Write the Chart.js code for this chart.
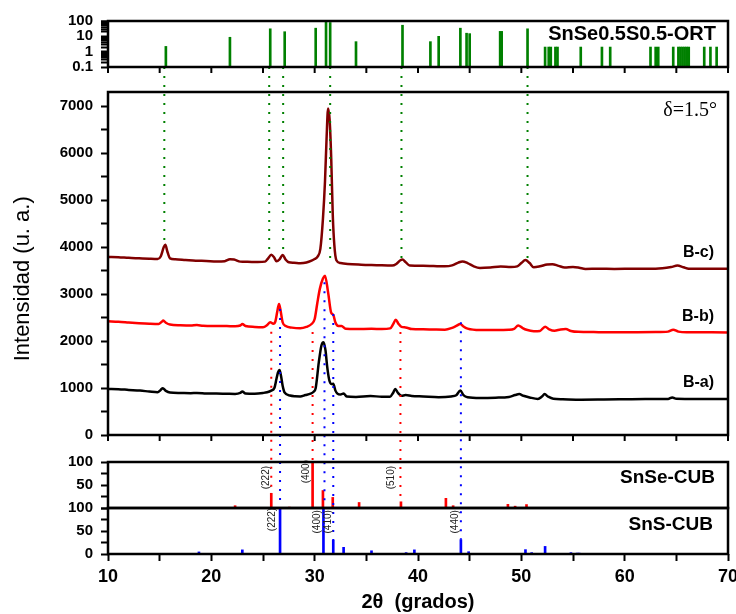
<!DOCTYPE html>
<html>
<head>
<meta charset="utf-8">
<script src="https://cdn.jsdelivr.net/npm/chart.js@4.4.1/dist/chart.umd.min.js"></script>
<style>
  html, body { margin: 0; padding: 0; background: #fff; }
  #wrap { width: 736px; height: 614px; }
</style>
</head>
<body>
<div id="wrap"><canvas id="xrd"></canvas></div>
<script>
// --- measured patterns (2theta, intensity) ---
const bcPoints = [[10, 3790], [11, 3785], [12, 3770], [13, 3760], [14, 3750], [14.8, 3745], [15.1, 3800], [15.4, 4000], [15.55, 4050], [15.75, 3900], [16.0, 3760], [16.5, 3740], [17.5, 3725], [18.5, 3710], [19.5, 3705], [20.5, 3695], [21.3, 3700], [21.8, 3740], [22.2, 3735], [22.8, 3690], [23.5, 3685], [24.5, 3680], [25.2, 3690], [25.5, 3760], [25.8, 3835], [26.05, 3790], [26.3, 3700], [26.6, 3740], [26.9, 3830], [27.2, 3730], [27.5, 3675], [28.0, 3665], [28.6, 3655], [29.2, 3670], [29.7, 3710], [30.0, 3745], [30.3, 3800], [30.55, 3960], [30.8, 4600], [31.0, 5400], [31.15, 6300], [31.3, 6950], [31.45, 6700], [31.6, 5900], [31.75, 4700], [31.9, 4050], [32.1, 3720], [32.5, 3660], [33.2, 3640], [34.5, 3625], [36.0, 3615], [37.5, 3605], [37.9, 3640], [38.3, 3720], [38.5, 3735], [38.8, 3680], [39.2, 3605], [40.5, 3600], [41.5, 3595], [42.6, 3590], [43.3, 3610], [43.9, 3670], [44.3, 3695], [44.8, 3660], [45.4, 3590], [46.0, 3555], [47.0, 3565], [48.0, 3585], [49.0, 3575], [49.6, 3590], [50.0, 3660], [50.4, 3725], [50.8, 3660], [51.2, 3570], [51.8, 3590], [52.5, 3630], [53.0, 3635], [53.6, 3600], [54.2, 3565], [55.0, 3575], [55.6, 3560], [56.2, 3535], [57.5, 3540], [59, 3535], [61, 3540], [63, 3540], [64.5, 3575], [65.1, 3605], [65.7, 3570], [66.2, 3540], [68, 3540], [70, 3540]];

const bbPoints = [[10, 2420], [11, 2410], [12, 2395], [13, 2380], [14, 2368], [14.9, 2362], [15.2, 2410], [15.35, 2435], [15.6, 2390], [16.0, 2350], [17, 2335], [18, 2330], [18.6, 2340], [19.2, 2325], [20.5, 2320], [21.5, 2318], [22.3, 2315], [22.8, 2330], [23.0, 2360], [23.3, 2320], [24.2, 2300], [25.0, 2295], [25.4, 2340], [25.7, 2400], [26.0, 2370], [26.2, 2420], [26.4, 2650], [26.55, 2790], [26.7, 2650], [26.9, 2400], [27.2, 2320], [27.8, 2285], [28.6, 2270], [29.2, 2300], [29.7, 2362], [30.0, 2468], [30.25, 2800], [30.5, 3110], [30.8, 3330], [31.0, 3390], [31.3, 3035], [31.6, 2600], [31.8, 2560], [32.0, 2400], [32.3, 2320], [32.6, 2320], [33.0, 2260], [34, 2255], [35.5, 2260], [36.5, 2255], [37.3, 2270], [37.6, 2360], [37.85, 2455], [38.1, 2370], [38.4, 2300], [38.8, 2290], [39.4, 2255], [40.5, 2250], [41.5, 2245], [42.6, 2241], [43.3, 2280], [43.7, 2320], [44.1, 2365], [44.4, 2310], [44.8, 2265], [46, 2235], [47.5, 2235], [48.8, 2240], [49.3, 2260], [49.7, 2330], [50.1, 2280], [50.5, 2240], [51.2, 2210], [51.8, 2215], [52.3, 2305], [52.7, 2250], [53.2, 2220], [53.8, 2245], [54.3, 2255], [54.8, 2215], [55.5, 2195], [57, 2190], [59, 2188], [61, 2188], [63, 2190], [64.2, 2200], [64.7, 2240], [65.2, 2200], [66, 2185], [68, 2185], [70, 2184]];

const baPoints = [[10, 980], [11, 975], [12, 960], [13.1, 945], [14, 925], [14.8, 910], [15.1, 960], [15.3, 995], [15.6, 940], [16.0, 905], [17, 895], [18, 890], [18.6, 895], [19.5, 885], [20.5, 882], [21.5, 878], [22.3, 875], [22.8, 895], [23.0, 925], [23.3, 885], [24.2, 880], [25.0, 895], [25.4, 910], [25.8, 945], [26.1, 1000], [26.3, 1190], [26.45, 1330], [26.6, 1385], [26.75, 1250], [26.9, 1050], [27.1, 900], [27.6, 840], [28.1, 825], [28.6, 822], [29.1, 850], [29.6, 880], [29.9, 920], [30.1, 1000], [30.4, 1546], [30.65, 1900], [30.85, 1975], [31.05, 1800], [31.2, 1475], [31.4, 1180], [31.6, 1085], [31.8, 1090], [32.0, 950], [32.2, 880], [32.5, 860], [32.8, 885], [33.1, 820], [34, 810], [35.4, 829], [36.5, 815], [37.3, 815], [37.6, 900], [37.8, 980], [38.05, 900], [38.4, 835], [38.8, 850], [39.4, 830], [40.5, 820], [42, 805], [43.2, 820], [43.7, 845], [44.1, 945], [44.4, 850], [44.8, 805], [46, 790], [47.5, 795], [48.8, 810], [49.4, 850], [49.8, 870], [50.2, 835], [50.8, 800], [51.6, 768], [52.0, 820], [52.25, 870], [52.6, 815], [53.1, 770], [54, 760], [55.8, 751], [58, 755], [60, 760], [62, 765], [64.2, 768], [64.6, 800], [65.0, 770], [67, 765], [70, 766]];

// --- reference patterns (stick positions / relative intensity) ---
const ortPos = [15.6, 21.8, 25.7, 27.1, 30.1, 31.1, 31.5, 34.0, 38.5, 41.2, 42.0, 44.1, 44.7, 45.0, 47.95, 48.1, 50.6, 52.3, 52.65, 52.85, 53.3, 53.5, 55.75, 57.8, 58.6, 62.5, 63.0, 63.25, 64.7, 65.2, 65.4, 65.6, 65.8, 66.0, 66.2, 67.7, 68.3, 68.9];
const ortInt = [2.2, 8.7, 31, 20, 34, 100, 80, 4.5, 53, 4.5, 10, 34, 16, 15, 21, 21, 31, 2, 2, 2, 2, 2, 2, 2, 2, 2, 2, 2, 2, 2, 2, 2, 2, 2, 2, 2, 2, 2];

const snseCubPos = [16.6, 22.3, 25.8, 26.9, 27.55, 29.8, 30.8, 31.75, 33.4, 34.3, 38.35, 42.7, 43.4, 48.7, 49.4, 50.5, 53.6, 58.2, 62.6];
const snseCubInt = [1, 5, 32, 1.5, 2, 100, 38, 23, 1, 12, 13.5, 21, 5, 8, 4, 7.5, 1.5, 0.8, 1];

const snsCubPos = [18.8, 23.0, 26.65, 30.85, 31.8, 32.8, 35.5, 38.85, 39.65, 42.0, 42.45, 44.15, 44.9, 45.6, 48.4, 50.4, 51.0, 52.3, 54.8, 55.4, 55.6, 56.2, 60.3, 64.8];
const snsCubInt = [4.5, 9, 100, 100, 30, 14.5, 7, 3, 9, 1.5, 1, 31, 5, 1.5, 1.5, 9.5, 3, 16.5, 3, 2, 2, 1, 1, 1];

// --- dotted guides: 2theta, start, end ---
const ortGuideX = [15.45, 25.6, 26.95, 31.5, 38.4, 50.6];
const ortGuideEnd = [4050, 3880, 3850, 3640, 3740, 3710];
const snseGuideX = [25.8, 29.8, 38.3];
const snseGuideStart = [2200, 2190, 2190];
const snseGuideEnd = [32, 100, 13.5];
const snsGuideX = [26.65, 30.95, 31.8, 44.15];
const snsGuideStart = [2680, 3250, 2575, 2400];
const snsGuideEnd = [100, 100, 30, 31];

// --- hkl labels ---
const snseHklX = [25.3, 29.2, 37.4];
const snseHklText = ['(222)', '(400)', '(510)'];
const snsHklX = [25.9, 30.25, 31.3, 43.6];
const snsHklText = ['(222)', '(400)', '(410)', '(440)'];

// --- ticks ---
const xTickValues = [10, 15, 20, 25, 30, 35, 40, 45, 50, 55, 60, 65, 70];
const xTickLabels = ['10', '', '20', '', '30', '', '40', '', '50', '', '60', '', '70'];
const mainTickValues = [0, 500, 1000, 1500, 2000, 2500, 3000, 3500, 4000, 4500, 5000, 5500, 6000, 6500, 7000];
const mainTickLabels = ['0', '', '1000', '', '2000', '', '3000', '', '4000', '', '5000', '', '6000', '', '7000'];
const logTickValues = [0.1, 0.2, 0.3, 0.4, 0.5, 0.6, 0.7, 0.8, 0.9, 1, 2, 3, 4, 5, 6, 7, 8, 9, 10, 20, 30, 40, 50, 60, 70, 80, 90, 100];
const logTickLabels = { 0.1: '0.1', 1: '1', 10: '10', 100: '100' };
const cubTickValues = [0, 25, 50, 75, 100];
const snseTickLabels = ['', '', '50', '', '100'];
const snsTickLabels = ['0', '', '50', '', '100'];

const FONT = "'Liberation Sans', Arial, sans-serif";
Chart.defaults.font.family = FONT;
Chart.defaults.color = '#000';

const toXY = pts => pts.map(([x, y]) => ({ x, y }));
const sticks = (pos, vals) => pos.map((x, i) => ({ x, y: vals[i] }));
const fixTicks = values => scale => { scale.ticks = values.map(v => ({ value: v })); };
const fixWidth = scale => { scale.width = 108; };

function panelAxis(weight, stackWeight, extra) {
    return Object.assign({
        position: 'left',
        stack: 'panels',
        weight: weight,
        stackWeight: stackWeight,
        offset: false,
        afterFit: fixWidth,
        border: { display: false },
        grid: { drawOnChartArea: false, tickLength: 7, tickWidth: 2, tickColor: '#000' }
    }, extra);
}

const tickFont = { size: 15, weight: 'bold' };

// --- frames, guides and texts ---
const decorations = {
    id: 'decorations',
    afterDatasetsDraw(chart) {
        const { ctx, scales } = chart;
        const x = scales.x;
        const yTop = scales.yTop, yMain = scales.yMain, ySe = scales.ySe, ySns = scales.ySns;
        ctx.save();

        // dotted guide lines
        ctx.lineWidth = 2;
        ctx.setLineDash([2, 7]);
        const guide = (color, gx, s1, v1, s2, v2) => {
            const px = x.getPixelForValue(gx);
            ctx.strokeStyle = color;
            ctx.beginPath();
            ctx.moveTo(px, s1.getPixelForValue(v1));
            ctx.lineTo(px, s2.getPixelForValue(v2));
            ctx.stroke();
        };
        ortGuideX.forEach((gx, i) => guide('#008000', gx, yTop, 0.1, yMain, ortGuideEnd[i]));
        snseGuideX.forEach((gx, i) => guide('#ff0000', gx, yMain, snseGuideStart[i], ySe, snseGuideEnd[i]));
        snsGuideX.forEach((gx, i) => guide('#0000ff', gx, yMain, snsGuideStart[i], ySns, snsGuideEnd[i]));
        ctx.setLineDash([]);

        // hkl labels
        ctx.fillStyle = '#222';
        ctx.font = '10px ' + FONT;
        ctx.textAlign = 'center';
        ctx.textBaseline = 'middle';
        const vText = (t, px, py) => {
            ctx.save();
            ctx.translate(px, py);
            ctx.rotate(-Math.PI / 2);
            ctx.fillText(t, 0, 0);
            ctx.restore();
        };
        snseHklX.forEach((hx, i) => vText(snseHklText[i], x.getPixelForValue(hx), ySe.getPixelForValue(i === 1 ? 79 : 66)));
        snsHklX.forEach((hx, i) => vText(snsHklText[i], x.getPixelForValue(hx), ySns.getPixelForValue(i === 0 ? 75 : 70)));

        // ORT label box
        const boxL = x.right - 195;
        ctx.fillStyle = '#fff';
        ctx.fillRect(boxL, yTop.top, x.right - boxL, 25);

        // frames
        ctx.strokeStyle = '#000';
        ctx.lineWidth = 2.5;
        [yTop, yMain, ySe, ySns].forEach(s => {
            ctx.strokeRect(x.left, s.top, x.right - x.left, s.bottom - s.top);
        });
        ctx.lineWidth = 2;
        [yTop, yMain].forEach(s => {
            xTickValues.forEach(v => {
                const px = x.getPixelForValue(v);
                ctx.beginPath();
                ctx.moveTo(px, s.bottom);
                ctx.lineTo(px, s.bottom + 6);
                ctx.stroke();
            });
        });

        // panel names
        ctx.fillStyle = '#000';
        ctx.textAlign = 'right';
        ctx.textBaseline = 'middle';
        ctx.font = 'bold 20px ' + FONT;
        ctx.fillText('SnSe0.5S0.5-ORT', x.right - 12, yTop.top + 13);
        ctx.font = 'bold 19px ' + FONT;
        ctx.fillText('SnSe-CUB', x.right - 13, (ySe.top + ySe.bottom) / 2 - 7);
        ctx.fillText('SnS-CUB', x.right - 15, (ySns.top + ySns.bottom) / 2 - 6);

        // series names
        ctx.font = 'bold 16px ' + FONT;
        chart.data.datasets.forEach(ds => {
            if (!ds.seriesName) return;
            const last = ds.data[ds.data.length - 1];
            ctx.fillText(ds.seriesName, x.right - 14, yMain.getPixelForValue(last.y) - 16);
        });

        ctx.font = '20px "Liberation Serif", "Times New Roman", serif';
        ctx.fillText('\u03b4=1.5\u00b0', x.right - 11, yMain.top + 19);
        ctx.restore();
    }
};

const lineSet = (name, pts, color) => ({
    type: 'line',
    seriesName: name,
    data: toXY(pts),
    yAxisID: 'yMain',
    borderColor: color,
    borderWidth: 2.5,
    pointRadius: 0,
    cubicInterpolationMode: 'monotone',
    order: 1
});

const barSet = (pos, vals, color, axis) => ({
    type: 'bar',
    data: sticks(pos, vals),
    yAxisID: axis,
    backgroundColor: color,
    borderWidth: 0,
    barThickness: 2,
    grouped: false,
    order: 2
});

new Chart(document.getElementById('xrd'), {
    type: 'line',
    data: {
        datasets: [
            lineSet('B-c)', bcPoints, '#800000'),
            lineSet('B-b)', bbPoints, '#ff0000'),
            lineSet('B-a)', baPoints, '#000000'),
            barSet(ortPos, ortInt, '#008000', 'yTop'),
            barSet(snseCubPos, snseCubInt, '#ff0000', 'ySe'),
            barSet(snsCubPos, snsCubInt, '#0000ff', 'ySns')
        ]
    },
    options: {
        responsive: true,
        maintainAspectRatio: false,
        animation: false,
        layout: { autoPadding: false, padding: { left: 0, right: 8, top: 21, bottom: 0 } },
        plugins: { legend: { display: false }, tooltip: { enabled: false } },
        scales: {
            x: {
                type: 'linear',
                min: 10,
                max: 70,
                offset: false,
                afterBuildTicks: fixTicks(xTickValues),
                afterFit: scale => {
                    scale.height = 60;
                    scale.paddingLeft = 0;
                    scale.paddingRight = 0;
                },
                border: { display: false },
                grid: { offset: false, drawOnChartArea: false, tickLength: 7, tickWidth: 2, tickColor: '#000' },
                ticks: { autoSkip: false, maxRotation: 0, padding: 5, font: { size: 18, weight: 'bold' },
                         callback: (v, i) => xTickLabels[i] },
                title: { display: true, text: '2\u03b8  (grados)', font: { size: 20, weight: 'bold' }, padding: 0 }
            },
            yTop: panelAxis(6, 46, {
                type: 'logarithmic',
                min: 0.1,
                max: 100,
                afterBuildTicks: fixTicks(logTickValues),
                ticks: { autoSkip: false, padding: 8, font: tickFont, callback: v => logTickLabels[v] || '' }
            }),
            yGapA: panelAxis(5, 25, { type: 'linear', display: false, min: 0, max: 1 }),
            yMain: panelAxis(4, 343, {
                type: 'linear',
                min: 0,
                max: 7300,
                afterBuildTicks: fixTicks(mainTickValues),
                ticks: { autoSkip: false, padding: 8, font: tickFont, callback: (v, i) => mainTickLabels[i] },
                title: { display: true, text: 'Intensidad (u. a.)     ', font: { size: 22 }, padding: { top: 10, bottom: 0 } }
            }),
            yGapB: panelAxis(3, 27, { type: 'linear', display: false, min: 0, max: 1 }),
            ySe: panelAxis(2, 46, {
                type: 'linear',
                min: 0,
                max: 100,
                afterBuildTicks: fixTicks(cubTickValues),
                ticks: { autoSkip: false, padding: 8, font: tickFont, callback: (v, i) => snseTickLabels[i] }
            }),
            ySns: panelAxis(1, 46, {
                type: 'linear',
                min: 0,
                max: 100,
                afterBuildTicks: fixTicks(cubTickValues),
                ticks: { autoSkip: false, padding: 8, font: tickFont, callback: (v, i) => snsTickLabels[i] }
            })
        }
    },
    plugins: [decorations]
});
</script>
</body>
</html>
